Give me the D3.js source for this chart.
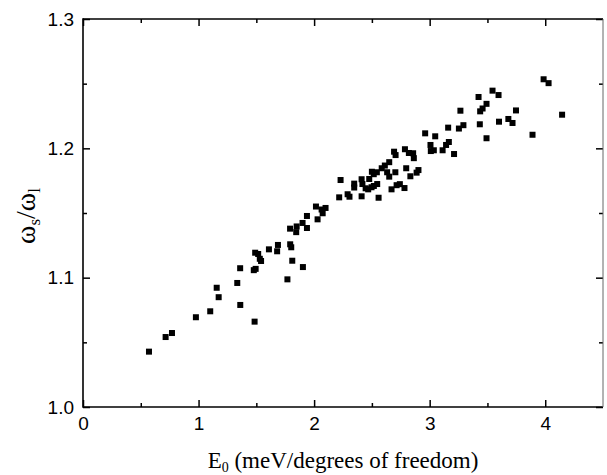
<!DOCTYPE html>
<html>
<head>
<meta charset="utf-8">
<script src="https://cdn.jsdelivr.net/npm/d3@7/dist/d3.min.js"></script>
<style>
  html, body { margin: 0; padding: 0; background: #fff; }
  svg { display: block; }
</style>
</head>
<body>
<svg id="chart" width="607" height="475"></svg>
<script>
// ---- Data ----
const energy = [
  0.571, 0.715, 0.770, 0.977, 1.101, 1.157, 1.174, 1.335, 1.360, 1.361,
  1.485, 1.478, 1.494, 1.490, 1.516, 1.530, 1.541, 1.609, 1.680, 1.687,
  1.769, 1.792, 1.793, 1.802, 1.811, 1.849, 1.845, 1.903, 1.900, 1.938,
  1.938, 2.030, 2.016, 2.065, 2.099, 2.074, 2.229, 2.217, 2.290, 2.306,
  2.347, 2.347, 2.411, 2.418, 2.411, 2.446, 2.468, 2.497, 2.517, 2.546,
  2.558, 2.500, 2.516, 2.543, 2.477, 2.585, 2.612, 2.650, 2.632, 2.650,
  2.703, 2.692, 2.705, 2.670, 2.714, 2.742, 2.782, 2.797, 2.786, 2.820,
  2.857, 2.863, 2.833, 2.887, 2.903, 2.961, 3.048, 3.007, 3.010, 3.036,
  3.112, 3.142, 3.166, 3.160, 3.211, 3.253, 3.292, 3.266, 3.423, 3.437,
  3.458, 3.492, 3.434, 3.492, 3.544, 3.596, 3.600, 3.681, 3.717, 3.747,
  3.890, 3.986, 4.029, 4.146
];
const ratio = [
  1.0428, 1.0541, 1.0572, 1.0694, 1.0740, 1.0922, 1.0849, 1.0959, 1.1073, 1.0789,
  1.0660, 1.1058, 1.1068, 1.1193, 1.1183, 1.1146, 1.1129, 1.1219, 1.1204, 1.1253,
  1.0987, 1.1379, 1.1258, 1.1235, 1.1131, 1.1396, 1.1352, 1.1082, 1.1423, 1.1384,
  1.1477, 1.1451, 1.1550, 1.1527, 1.1539, 1.1498, 1.1755, 1.1621, 1.1645, 1.1626,
  1.1727, 1.1697, 1.1761, 1.1724, 1.1629, 1.1691, 1.1683, 1.1699, 1.1709, 1.1724,
  1.1618, 1.1819, 1.1800, 1.1815, 1.1763, 1.1846, 1.1867, 1.1893, 1.1815, 1.1781,
  1.1815, 1.1974, 1.1948, 1.1683, 1.1715, 1.1723, 1.1693, 1.1846, 1.1993, 1.1964,
  1.1962, 1.1924, 1.1784, 1.1812, 1.1832, 1.2116, 1.2093, 1.2026, 1.1979, 1.1985,
  1.1985, 1.2026, 1.2049, 1.2160, 1.1956, 1.2153, 1.2179, 1.2291, 1.2397, 1.2286,
  1.2308, 1.2344, 1.2186, 1.2078, 1.2446, 1.2412, 1.2206, 1.2227, 1.2196, 1.2293,
  1.2105, 1.2534, 1.2504, 1.2260
];
const xMajorTicks = [0, 1, 2, 3, 4];
const xMinorTicks = [0.5, 1.5, 2.5, 3.5];
const yMajorTicks = [1.0, 1.1, 1.2, 1.3];
const yMinorTicks = [1.05, 1.15, 1.25];
const xTickLabels = ["0", "1", "2", "3", "4"];
const yTickLabels = ["1.0", "1.1", "1.2", "1.3"];

// ---- Layout ----
const svg = d3.select("#chart");
const pL = 83, pR = 603, pT = 19, pB = 407;

const x = d3.scaleLinear().domain([0, 4.5]).range([pL, pR]);
const y = d3.scaleLinear().domain([1.0, 1.3]).range([pB, pT]);

const tickFont = "'Liberation Sans', Arial, sans-serif";
const serif = "'Liberation Serif', 'Times New Roman', serif";

function styleAxis(g, width) {
  g.selectAll(".domain").remove();
  g.selectAll(".tick line").attr("stroke", "#000").attr("stroke-width", width);
  g.selectAll(".tick text").attr("fill", "#000")
    .style("font-family", tickFont).style("font-size", "19px");
}

// Bottom axis (major with labels)
const gB = svg.append("g").attr("transform", `translate(0,${pB})`)
  .call(d3.axisBottom(x).tickValues(xMajorTicks)
    .tickFormat((d, i) => xTickLabels[i]).tickSize(-7).tickPadding(10));
styleAxis(gB, 1.5);
const gBm = svg.append("g").attr("transform", `translate(0,${pB})`)
  .call(d3.axisBottom(x).tickValues(xMinorTicks).tickFormat("").tickSize(-4));
styleAxis(gBm, 1.5);

// Top axis (ticks only)
const gT = svg.append("g").attr("transform", `translate(0,${pT})`)
  .call(d3.axisTop(x).tickValues(xMajorTicks).tickFormat("").tickSize(-7));
styleAxis(gT, 1.5);
const gTm = svg.append("g").attr("transform", `translate(0,${pT})`)
  .call(d3.axisTop(x).tickValues(xMinorTicks).tickFormat("").tickSize(-4));
styleAxis(gTm, 1.5);

// Left axis
const gL = svg.append("g").attr("transform", `translate(${pL},0)`)
  .call(d3.axisLeft(y).tickValues(yMajorTicks)
    .tickFormat((d, i) => yTickLabels[i]).tickSize(-7).tickPadding(9));
styleAxis(gL, 1.5);
const gLm = svg.append("g").attr("transform", `translate(${pL},0)`)
  .call(d3.axisLeft(y).tickValues(yMinorTicks).tickFormat("").tickSize(-4));
styleAxis(gLm, 1.5);

// Right axis
const gR = svg.append("g").attr("transform", `translate(${pR},0)`)
  .call(d3.axisRight(y).tickValues(yMajorTicks).tickFormat("").tickSize(-7));
styleAxis(gR, 1.5);
const gRm = svg.append("g").attr("transform", `translate(${pR},0)`)
  .call(d3.axisRight(y).tickValues(yMinorTicks).tickFormat("").tickSize(-4));
styleAxis(gRm, 1.5);

// Frame
svg.append("line").attr("x1", pL).attr("x2", pR).attr("y1", pB).attr("y2", pB)
  .attr("stroke", "#000").attr("stroke-width", 1.6);
svg.append("line").attr("x1", pL).attr("x2", pR).attr("y1", pT).attr("y2", pT)
  .attr("stroke", "#000").attr("stroke-width", 1.6);
svg.append("line").attr("x1", pL).attr("x2", pL).attr("y1", pT - 0.8).attr("y2", pB + 0.8)
  .attr("stroke", "#000").attr("stroke-width", 1.6);
svg.append("line").attr("x1", pR).attr("x2", pR).attr("y1", pT).attr("y2", pB)
  .attr("stroke", "#666").attr("stroke-width", 1);

// Points
const pts = energy.map((e, i) => ({ e, r: ratio[i] }));
const s = 6;
svg.append("g").selectAll("rect").data(pts).join("rect")
  .attr("x", d => x(d.e) - s / 2)
  .attr("y", d => y(d.r) - s / 2)
  .attr("width", s).attr("height", s)
  .attr("fill", "#000");

// X title
const xt = svg.append("text")
  .attr("x", 343)
  .attr("y", 468)
  .attr("text-anchor", "middle")
  .style("font-family", serif).style("font-size", "23px").attr("fill", "#000");
xt.append("tspan").text("E");
xt.append("tspan").attr("dy", 4).style("font-size", "14px").text("0");
xt.append("tspan").attr("dy", -4).text(" (meV/degrees of freedom)");

// Y title
const yt = svg.append("text")
  .attr("transform", `translate(35,216) rotate(-90)`)
  .attr("text-anchor", "middle")
  .style("font-family", serif).style("font-size", "28px").attr("fill", "#000");
yt.append("tspan").text("ω");
yt.append("tspan").attr("dy", 5).style("font-size", "17px").text("s");
yt.append("tspan").attr("dy", -5).text("/ω");
yt.append("tspan").attr("dy", 5).style("font-size", "17px").text("l");
</script>
</body>
</html>
